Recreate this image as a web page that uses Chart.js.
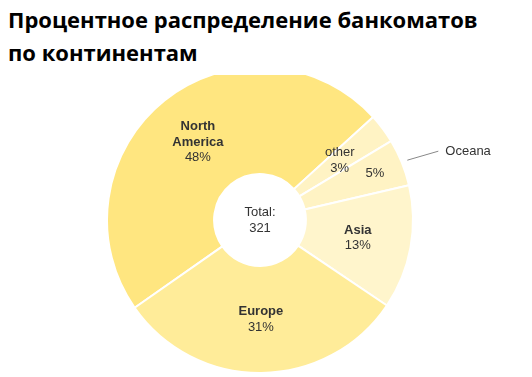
<!DOCTYPE html>
<html>
<head>
<meta charset="utf-8">
<script src="https://cdn.jsdelivr.net/npm/chart.js@4/dist/chart.umd.min.js"></script>
<style>
  html, body { margin: 0; padding: 0; background: #fff; }
  body { width: 532px; height: 377px; position: relative; overflow: hidden; }
  .title {
    position: absolute; left: 8px; top: 3px;
    font-family: "Open Sans", sans-serif; font-weight: 700;
    font-size: 22px; line-height: 33px; color: #000;
  }
  .chart-clip { position: absolute; left: 0; top: 75px; width: 532px; height: 302px; overflow: hidden; }
  .chart-box { position: absolute; left: 0; top: -9px; width: 532px; height: 308px; }
</style>
</head>
<body>
<div class="title">Процентное распределение банкоматов<br>по континентам</div>
<div class="chart-clip">
  <div class="chart-box"><canvas id="atm-chart"></canvas></div>
</div>
<script>
const atmCanvas = document.getElementById('atm-chart');

// Chart Data (clockwise order)
const continents = ['North America', 'other', 'Oceana', 'Asia', 'Europe'];
const atmCounts = [154, 10, 16, 42, 99];
const sliceColors = ['#ffe680', '#fff3c4', '#fff3c4', '#fff5cc', '#ffec99'];
const boldNames = ['North America', 'Asia', 'Europe'];
const outsideNames = ['Oceana'];

const total = atmCounts.reduce((a, b) => a + b, 0);
const labelFont = '"Liberation Sans", Arial, sans-serif';

// draws names + percents on the slices and the total in the hole
const sliceLabels = {
  id: 'sliceLabels',
  afterDatasetsDraw(chart) {
    const ctx = chart.ctx;
    const meta = chart.getDatasetMeta(0);
    ctx.save();
    ctx.fillStyle = '#333';
    ctx.textAlign = 'center';
    ctx.textBaseline = 'middle';
    meta.data.forEach((arc, i) => {
      const p = arc.getProps(['x', 'y', 'startAngle', 'endAngle', 'innerRadius', 'outerRadius'], true);
      const mid = (p.startAngle + p.endAngle) / 2;
      const name = continents[i];
      const pct = Math.round(atmCounts[i] / total * 100) + '%';
      if (outsideNames.includes(name)) {
        const r = p.outerRadius * 0.81;
        ctx.font = '13px ' + labelFont;
        ctx.fillText(pct, p.x + Math.cos(mid) * r, p.y + Math.sin(mid) * r);
        const sx = p.x + Math.cos(mid) * (p.outerRadius + 6);
        const sy = p.y + Math.sin(mid) * (p.outerRadius + 6);
        ctx.strokeStyle = '#888';
        ctx.lineWidth = 1;
        ctx.beginPath();
        ctx.moveTo(sx, sy);
        ctx.lineTo(sx + 31, sy - 9);
        ctx.stroke();
        ctx.textAlign = 'left';
        ctx.fillText(name, sx + 38, sy - 9);
        ctx.textAlign = 'center';
        return;
      }
      const r = (p.innerRadius + p.outerRadius) / 2;
      const cx = p.x + Math.cos(mid) * r;
      const cy = p.y + Math.sin(mid) * r;
      const lines = name.split(' ');
      const all = lines.concat([pct]);
      const lh = 15.5;
      const top = cy - (all.length - 1) * lh / 2;
      all.forEach((t, j) => {
        const isName = j < lines.length;
        ctx.font = (isName && boldNames.includes(name) ? 'bold ' : '') + '13px ' + labelFont;
        ctx.fillText(t, cx, top + j * lh);
      });
    });
    const c = meta.data[0];
    ctx.font = '13px ' + labelFont;
    ctx.fillText('Total:', c.x, c.y - 8);
    ctx.fillText(String(total), c.x, c.y + 8);
    ctx.restore();
  }
};

const atmChart = new Chart(atmCanvas, {
  type: 'doughnut',
  data: {
    labels: continents,
    datasets: [{
      data: atmCounts,
      backgroundColor: sliceColors,
      borderColor: '#fff',
      borderWidth: 2,
      hoverOffset: 0
    }]
  },
  options: {
    responsive: true,
    maintainAspectRatio: false,
    animation: false,
    cutout: '30%',
    rotation: 235,
    layout: { padding: { right: 12 } },
    plugins: {
      legend: { display: false },
      tooltip: { enabled: false }
    }
  },
  plugins: [sliceLabels]
});
</script>
</body>
</html>
